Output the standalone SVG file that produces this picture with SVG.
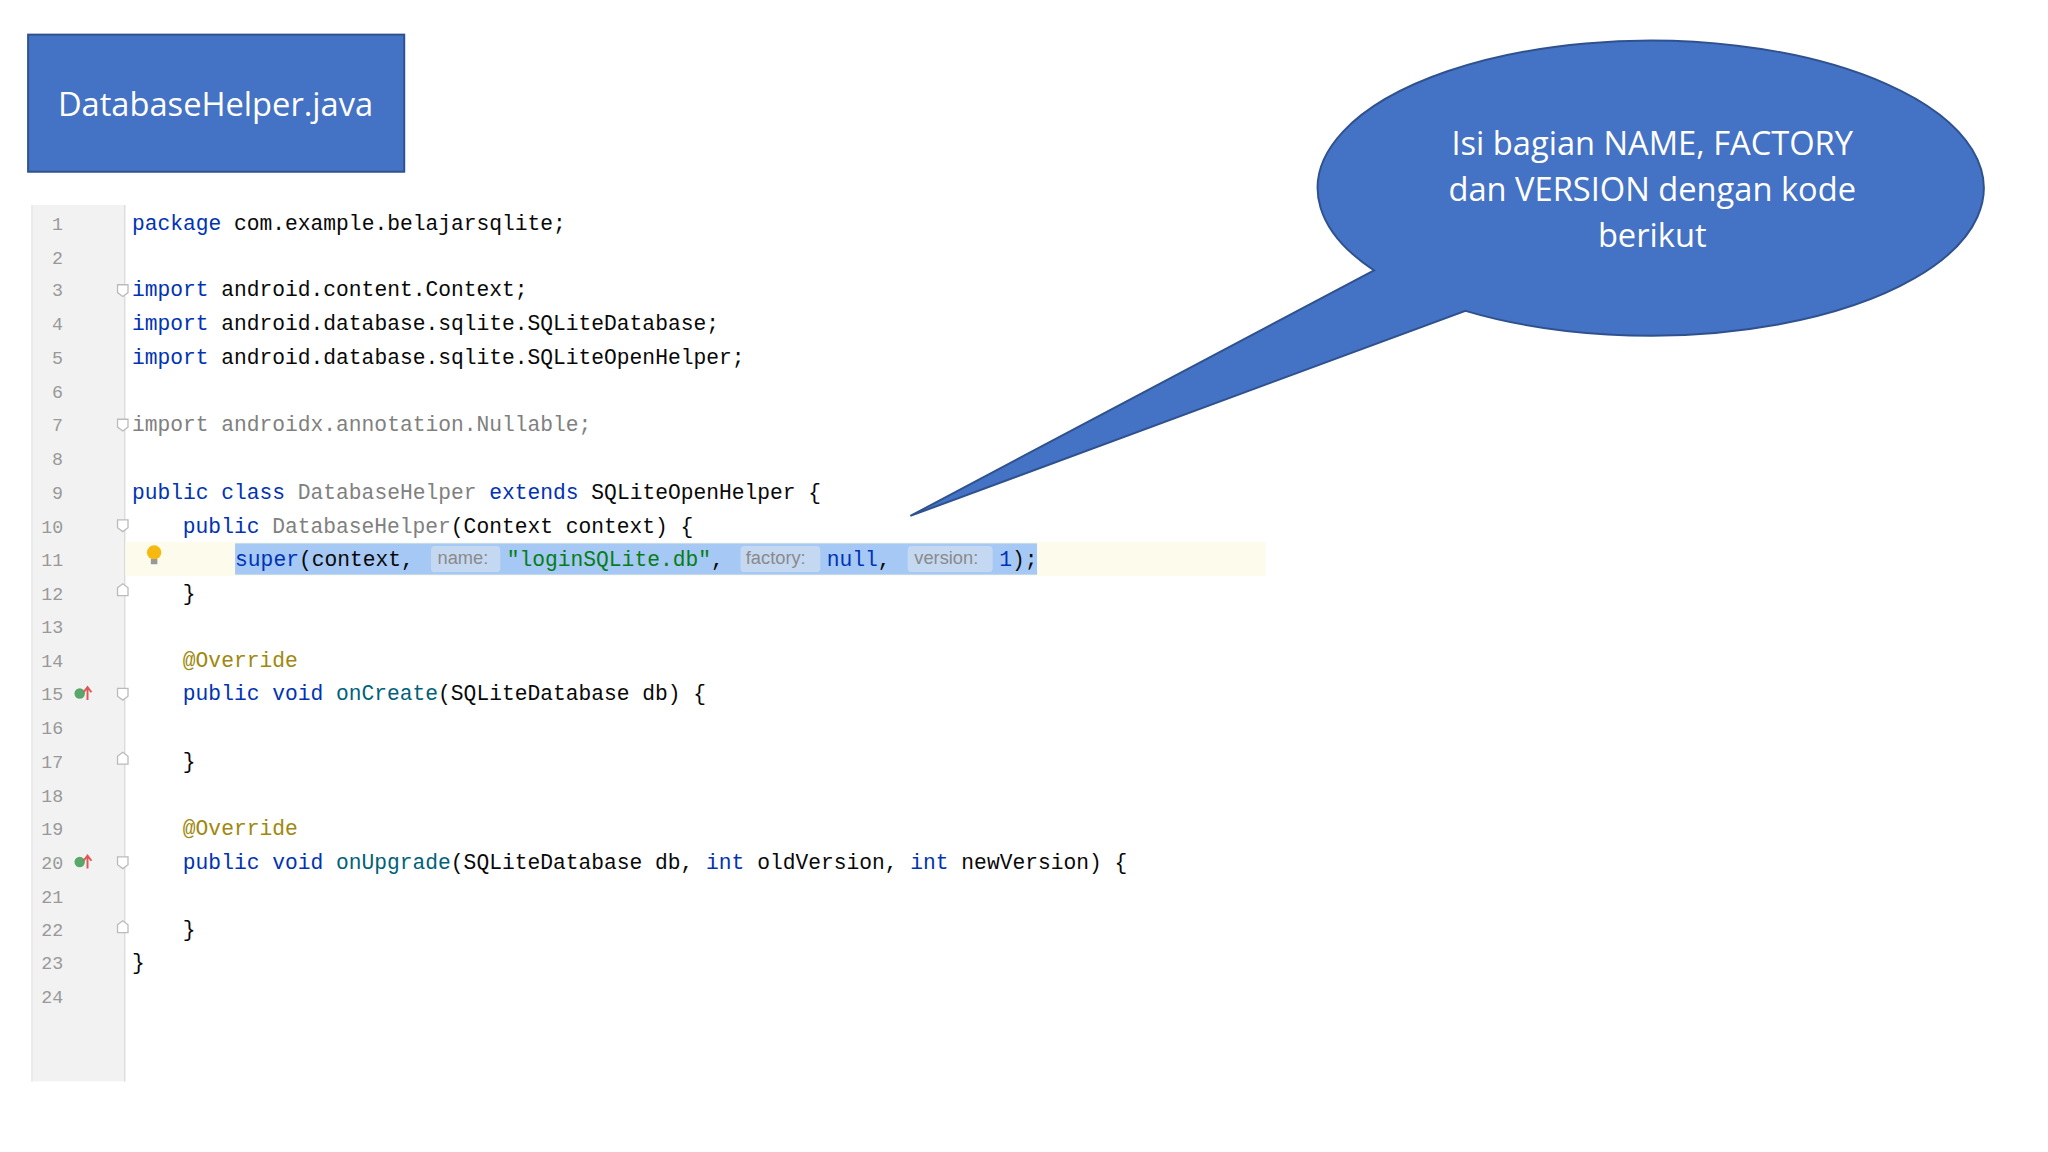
<svg xmlns="http://www.w3.org/2000/svg" width="2048" height="1152" viewBox="0 0 2048 1152">
<style>
.c{font-family:"Liberation Mono","DejaVu Sans Mono",monospace;font-size:16.3px;fill:#080808;white-space:pre}
.n{font-family:"Liberation Mono",monospace;font-size:14px;fill:#999;text-anchor:middle}
.k{fill:#0033B3}.g{fill:#808080}.s{fill:#067D17}.a{fill:#9E880D}.m{fill:#00627A}
.h{font-family:"Liberation Sans",Arial,sans-serif;font-size:14px;fill:#8a8a8a}
.w{font-family:"Open Sans","Liberation Sans",sans-serif;fill:#fff;text-anchor:middle}
.f{fill:#fff;stroke:#bbb;stroke-width:1}
</style>
<rect width="2048" height="1152" fill="#fff"/>
<g transform="scale(1.30612)">
<g id="title">
<rect x="21.5" y="26.5" width="288" height="105" fill="#4472C4" stroke="#2F528F" stroke-width="1.5"/>
<text class="w" x="165" y="89" font-size="25">DatabaseHelper.java</text>
</g>
<g id="editor">
<rect x="25" y="157" width="70" height="671" fill="#f2f2f2"/>
<line x1="95.5" y1="157" x2="95.5" y2="828" stroke="#d8d8d8"/>
<line x1="24.5" y1="157" x2="24.5" y2="828" stroke="#e0e0e0"/>
<rect x="96" y="415" width="873" height="26" fill="#fdfbeb"/>
<rect x="180" y="416" width="614" height="24" fill="#A6C8F5"/>
<rect x="330" y="418" width="53" height="20" rx="3" fill="#c5d8f2"/>
<rect x="567" y="418" width="61" height="20" rx="3" fill="#c5d8f2"/>
<rect x="695" y="418" width="65" height="20" rx="3" fill="#c5d8f2"/>
<g>
<text class="n" x="44" y="176">1</text><text class="n" x="44" y="202">2</text><text class="n" x="44" y="227">3</text><text class="n" x="44" y="253">4</text><text class="n" x="44" y="279">5</text><text class="n" x="44" y="305">6</text><text class="n" x="44" y="330">7</text><text class="n" x="44" y="356">8</text><text class="n" x="44" y="382">9</text><text class="n" x="40" y="408">10</text><text class="n" x="40" y="433">11</text><text class="n" x="40" y="459">12</text><text class="n" x="40" y="485">13</text><text class="n" x="40" y="511">14</text><text class="n" x="40" y="536">15</text><text class="n" x="40" y="562">16</text><text class="n" x="40" y="588">17</text><text class="n" x="40" y="614">18</text><text class="n" x="40" y="639">19</text><text class="n" x="40" y="665">20</text><text class="n" x="40" y="691">21</text><text class="n" x="40" y="717">22</text><text class="n" x="40" y="742">23</text><text class="n" x="40" y="768">24</text>
</g>
<g fill="#fff" stroke="#bbb">
<path d="M90 218h8v6l-4 3l-4-3z"/><path d="M90 321h8v6l-4 3l-4-3z"/><path d="M90 398h8v6l-4 3l-4-3z"/><path d="M90 450l4-3l4 3v6h-8z"/><path d="M90 527h8v6l-4 3l-4-3z"/><path d="M90 579l4-3l4 3v6h-8z"/><path d="M90 656h8v6l-4 3l-4-3z"/><path d="M90 708l4-3l4 3v6h-8z"/>
</g>
<g>
<circle cx="118" cy="423" r="5.5" fill="#F5B90F"/><rect x="115.5" y="428" width="5" height="4" fill="#999"/>
<circle cx="61" cy="531" r="4" fill="#59A869"/><path d="M67 536v-9M64 530l3-4l3 4" stroke="#E05555" stroke-width="1.5" fill="none"/>
<circle cx="61" cy="660" r="4" fill="#59A869"/><path d="M67 665v-9M64 659l3-4l3 4" stroke="#E05555" stroke-width="1.5" fill="none"/>
</g>
<text class="c" x="101" y="176"><tspan class="k">package</tspan> com.example.belajarsqlite;</text>
<text class="c" x="101" y="227"><tspan class="k">import</tspan> android.content.Context;</text>
<text class="c" x="101" y="253"><tspan class="k">import</tspan> android.database.sqlite.SQLiteDatabase;</text>
<text class="c" x="101" y="279"><tspan class="k">import</tspan> android.database.sqlite.SQLiteOpenHelper;</text>
<text class="c g" x="101" y="330">import androidx.annotation.Nullable;</text>
<text class="c" x="101" y="382"><tspan class="k">public class</tspan> <tspan class="g">DatabaseHelper</tspan> <tspan class="k">extends</tspan> SQLiteOpenHelper {</text>
<text class="c" x="140" y="408"><tspan class="k">public</tspan> <tspan class="g">DatabaseHelper</tspan>(Context context) {</text>
<text class="c" x="180" y="433"><tspan class="k">super</tspan>(context,</text>
<text class="h" x="335" y="432">name:</text>
<text class="c s" x="388" y="433">"loginSQLite.db"<tspan fill="#080808">,</tspan></text>
<text class="h" x="571" y="432">factory:</text>
<text class="c k" x="633" y="433">null<tspan fill="#080808">,</tspan></text>
<text class="h" x="700" y="432">version:</text>
<text class="c" x="765" y="433"><tspan class="k">1</tspan>);</text>
<text class="c" x="140" y="459">}</text>
<text class="c a" x="140" y="511">@Override</text>
<text class="c" x="140" y="536"><tspan class="k">public void</tspan> <tspan class="m">onCreate</tspan>(SQLiteDatabase db) {</text>
<text class="c" x="140" y="588">}</text>
<text class="c a" x="140" y="639">@Override</text>
<text class="c" x="140" y="665"><tspan class="k">public void</tspan> <tspan class="m">onUpgrade</tspan>(SQLiteDatabase db, <tspan class="k">int</tspan> oldVersion, <tspan class="k">int</tspan> newVersion) {</text>
<text class="c" x="140" y="717">}</text>
<text class="c" x="101" y="742">}</text>
</g>
<g id="callout">
<path d="M1052 207 A255 113 0 1 1 1122 238 L697 395 Z" fill="#4472C4" stroke="#2F528F" stroke-width="1.5"/>
<text class="w" font-size="25"><tspan x="1265" y="119">Isi bagian NAME, FACTORY</tspan><tspan x="1265" y="154">dan VERSION dengan kode</tspan><tspan x="1265" y="189">berikut</tspan></text>
</g>
</g>
</svg>
